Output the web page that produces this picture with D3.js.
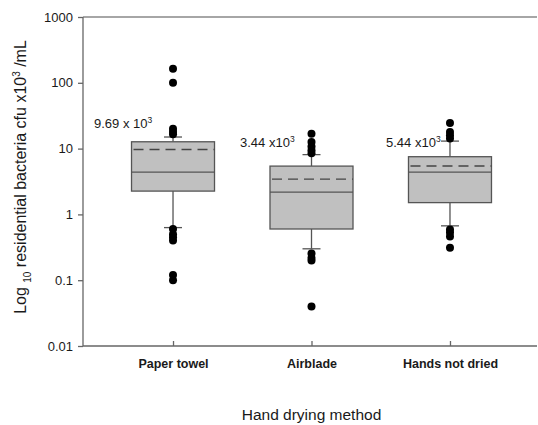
<!DOCTYPE html>
<meta charset="utf-8">
<style>
body { margin: 0; background: #fff; }
text { font-family: "Liberation Sans", Arial, sans-serif; fill: #1a1a1a; }
.axis path, .axis line { stroke: #666; stroke-width: 1.3px; }
.box { fill: #c0c0c0; stroke: #555; stroke-width: 1.3px; }
.med { stroke: #555; stroke-width: 1.3px; }
.mean { stroke: #444; stroke-width: 1.3px; stroke-dasharray: 10,6; }
.whisk { stroke: #555; stroke-width: 1.3px; }
</style>
<body>
<script src="https://d3js.org/d3.v7.min.js"></script>
<script>

// data
var categories = ["Paper towel", "Airblade", "Hands not dried"];
var q1 = [2.26, 0.60, 1.51];
var medians = [4.4, 2.18, 4.4];
var q3 = [12.7, 5.42, 7.53];
var means = [9.69, 3.44, 5.44];
var whiskLow = [0.63, 0.30, 0.67];
var whiskHigh = [15.0, 8.1, 13.0];
var outliersPaper = [164, 100, 20, 18, 16.5, 0.6, 0.5, 0.45, 0.4, 0.12, 0.1];
var outliersAir = [16.8, 12.6, 10.8, 9.4, 8.5, 0.255, 0.22, 0.2, 0.04];
var outliersHands = [24.4, 17.8, 15.9, 14.3, 0.59, 0.53, 0.46, 0.31];
var meanLabels = [["9.69 x 10", "3"], ["3.44 x10", "3"], ["5.44 x10", "3"]];
var yTicks = [0.01, 0.1, 1, 10, 100, 1000];

var outliers = [outliersPaper, outliersAir, outliersHands];

var width = 538, height = 425;
var svg = d3.select("body").append("svg")
    .attr("width", width)
    .attr("height", height);

var x = d3.scalePoint().domain(categories).range([83, 540]).padding(0.65);
var y = d3.scaleLog().domain([0.01, 1000]).range([346, 17]);
var boxW = 83, capW = 18;

// top frame line
svg.append("line")
    .attr("x1", 83).attr("x2", 537)
    .attr("y1", y(1000)).attr("y2", y(1000))
    .attr("stroke", "#888").attr("stroke-width", 1.6);

// y axis
var yAxis = svg.append("g")
    .attr("class", "axis")
    .attr("transform", "translate(83,0)")
    .call(d3.axisLeft(y).tickValues(yTicks).tickSize(5).tickPadding(5)
      .tickFormat(function(d) { return String(d); }));
yAxis.selectAll("text").style("font-size", "13px");
yAxis.select(".domain").attr("d", "M0," + y(0.01) + "V" + y(1000));

// x axis
var xAxis = svg.append("g")
    .attr("class", "axis")
    .attr("transform", "translate(0," + y(0.01) + ")")
    .call(d3.axisBottom(x).tickSize(5).tickSizeOuter(0).tickPadding(8));
xAxis.select(".domain").attr("d", "M83,0H537");
xAxis.selectAll(".tick line").attr("y2", 5).attr("y1", 0).attr("transform", "translate(0,-5)");
xAxis.selectAll("text").style("font-size", "12.5px").style("font-weight", "bold");

// boxes
var g = svg.append("g");
categories.forEach(function(c, i) {
  var cx = x(c);
  g.append("line").attr("class", "whisk")
    .attr("x1", cx).attr("x2", cx).attr("y1", y(q3[i])).attr("y2", y(whiskHigh[i]));
  g.append("line").attr("class", "whisk")
    .attr("x1", cx).attr("x2", cx).attr("y1", y(q1[i])).attr("y2", y(whiskLow[i]));
  g.append("line").attr("class", "whisk")
    .attr("x1", cx - capW / 2).attr("x2", cx + capW / 2)
    .attr("y1", y(whiskHigh[i])).attr("y2", y(whiskHigh[i]));
  g.append("line").attr("class", "whisk")
    .attr("x1", cx - capW / 2).attr("x2", cx + capW / 2)
    .attr("y1", y(whiskLow[i])).attr("y2", y(whiskLow[i]));
  g.append("rect").attr("class", "box")
    .attr("x", cx - boxW / 2).attr("width", boxW)
    .attr("y", y(q3[i])).attr("height", y(q1[i]) - y(q3[i]));
  g.append("line").attr("class", "med")
    .attr("x1", cx - boxW / 2).attr("x2", cx + boxW / 2)
    .attr("y1", y(medians[i])).attr("y2", y(medians[i]));
  g.append("line").attr("class", "mean")
    .attr("x1", cx - boxW / 2 + 2).attr("x2", cx + boxW / 2)
    .attr("y1", y(means[i])).attr("y2", y(means[i]));

  g.selectAll(null).data(outliers[i]).enter().append("circle")
    .attr("cx", cx).attr("cy", function(d) { return y(d); })
    .attr("r", 4).attr("fill", "#000");
});

// mean labels
var labelPos = [[94, 128], [240, 147], [386, 147]];
meanLabels.forEach(function(l, i) {
  var t = svg.append("text")
    .attr("x", labelPos[i][0]).attr("y", labelPos[i][1])
    .style("font-size", "13px");
  t.append("tspan").text(l[0]);
  t.append("tspan").attr("dy", -5).style("font-size", "8.5px").text(l[1]);
});

// y label
var yl = svg.append("text")
    .attr("transform", "translate(26,177) rotate(-90)")
    .attr("text-anchor", "middle")
    .style("font-size", "16px");
yl.append("tspan").text("Log ");
yl.append("tspan").attr("dy", 5).style("font-size", "10px").text("10");
yl.append("tspan").attr("dy", -5).text(" residential bacteria cfu x10");
yl.append("tspan").attr("dy", -6).style("font-size", "10px").text("3");
yl.append("tspan").attr("dy", 6).text(" /mL");

// x label
svg.append("text")
    .attr("x", x("Airblade")).attr("y", 420)
    .attr("text-anchor", "middle")
    .style("font-size", "15.5px")
    .text("Hand drying method");

</script>
</body>
